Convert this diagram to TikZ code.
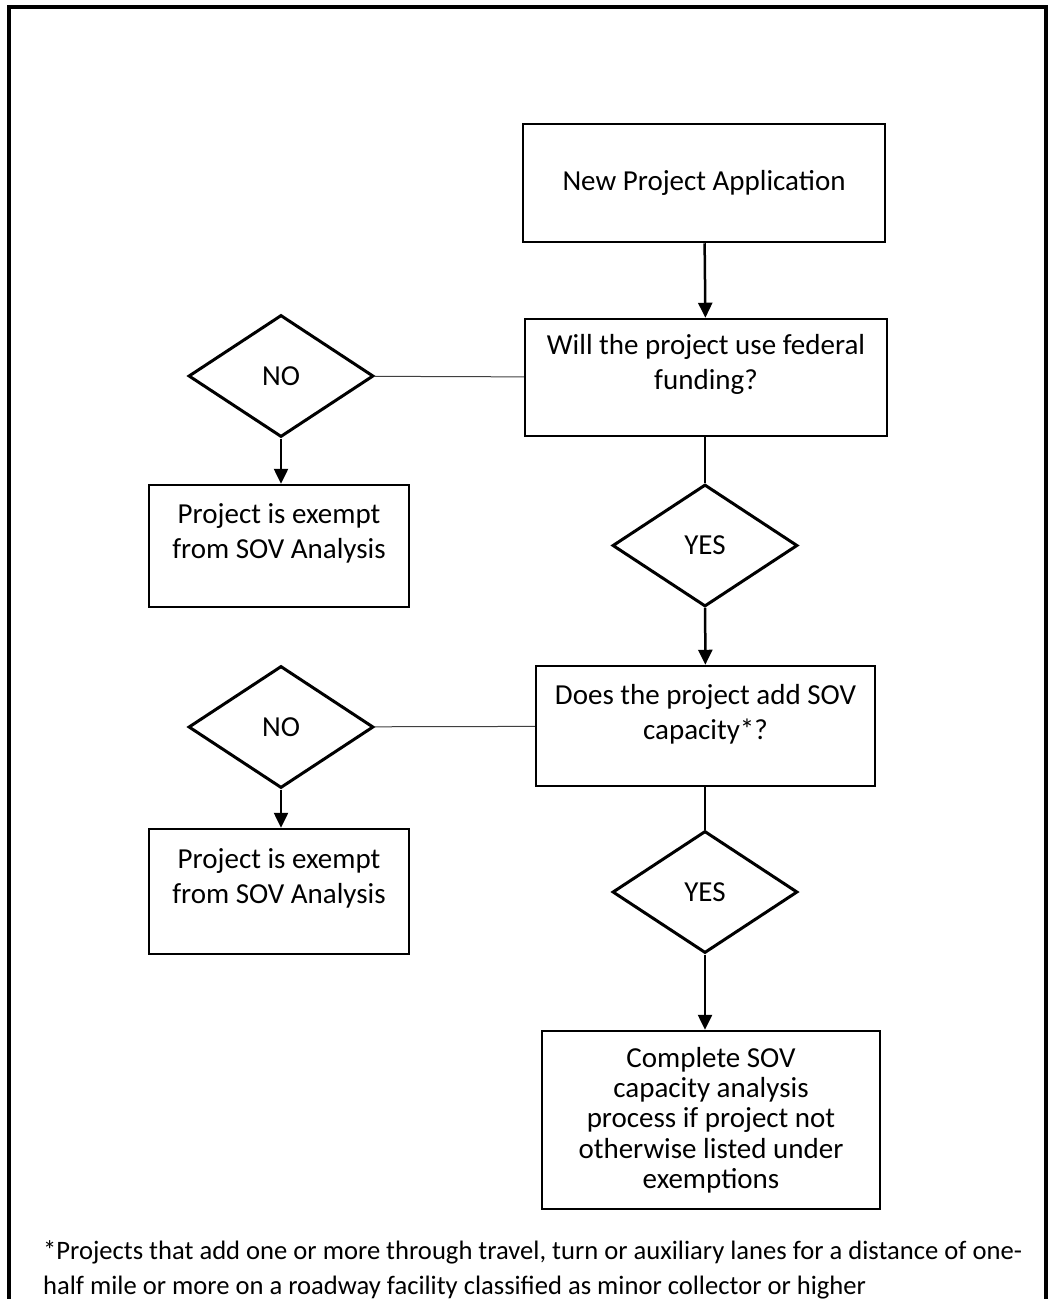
\documentclass[tikz,border=0pt]{standalone}
\usepackage{fontspec}
\setmainfont{Carlito}
\usepackage{tikz}
\usetikzlibrary{positioning,arrows.meta,shapes.geometric}
\tikzset{
  box/.style   = {draw, line width=2.5pt, inner sep=0pt, align=center},
  dec/.style   = {draw, diamond, line width=3pt, inner sep=0pt, minimum width=185pt, minimum height=122pt},
  txt/.style   = {align=center, inner sep=0pt},
  flow/.style  = {-{Triangle[length=15pt,width=14pt]}, line width=2.5pt},
  link/.style  = {line width=1pt, draw=black!75},
  stem/.style  = {line width=1.6pt},
}

\begin{document}
\begin{tikzpicture}[x=1pt, y=1pt, font=\fontsize{29}{35}\selectfont]
  \useasboundingbox (0,0) rectangle (1050,-1299);
  % frame
  \draw[line width=4pt] (9,-1320) -- (9,-7) -- (1046,-7) -- (1046,-1320);

  % main column
  \node[box, minimum width=362pt, minimum height=118pt] (start) at (704,-183) {New Project Application};
  \node[box, minimum width=362pt, minimum height=117pt] (fed) at (706,-377.5) {};
  \node[txt] (fedtxt) at ([yshift=13pt]fed.center) {Will the project use federal\\funding?};
  \node[dec] (yes1) at (705,-545.5) {YES};
  \node[box, minimum width=339pt, minimum height=120pt] (cap) at (705.5,-726) {};
  \node[txt] (captxt) at ([yshift=12pt]cap.center) {Does the project add SOV\\capacity*?};
  \node[dec] (yes2) at (705,-892) {YES};
  \node[box, minimum width=338pt, minimum height=178pt, font=\fontsize{29}{30.3}\selectfont] (done) at (711,-1120)
    {Complete SOV\\capacity analysis\\process if project not\\otherwise listed under\\exemptions};

  % left column
  \node[dec] (no1) at (281,-376) {NO};
  \node[box, minimum width=260pt, minimum height=122pt] (ex1) at (279,-546) {};
  \node[txt] (ex1txt) at ([yshift=13pt]ex1.center) {Project is exempt\\from SOV Analysis};
  \node[dec] (no2) at (281,-727) {NO};
  \node[box, minimum width=260pt, minimum height=125pt] (ex2) at (279,-891.5) {};
  \node[txt] (ex2txt) at ([yshift=13.5pt]ex2.center) {Project is exempt\\from SOV Analysis};

  % connectors
  \draw[flow] (start) -- (fed);
  \draw[link] (fed) -- (no1);
  \draw[flow] (no1.south) -- (no1.south |- ex1.north);
  \draw[stem] (fed.south -| yes1.north) -- (yes1);
  \draw[flow] (yes1) -- (cap);
  \draw[link] (cap) -- (no2);
  \draw[flow] (no2.south) -- (no2.south |- ex2.north);
  \draw[stem] (cap.south -| yes2.north) -- (yes2);
  \draw[flow] (yes2.south) -- (yes2.south |- done.north);

  % footnote
  \node[anchor=north west, align=left, inner sep=0pt, font=\fontsize{26.6}{35}\selectfont] (note) at (43,-1240)
    {*Projects that add one or more through travel, turn or auxiliary lanes for a distance of one-\\half mile or more on a roadway facility classified as minor collector or higher};
\end{tikzpicture}
\end{document}
